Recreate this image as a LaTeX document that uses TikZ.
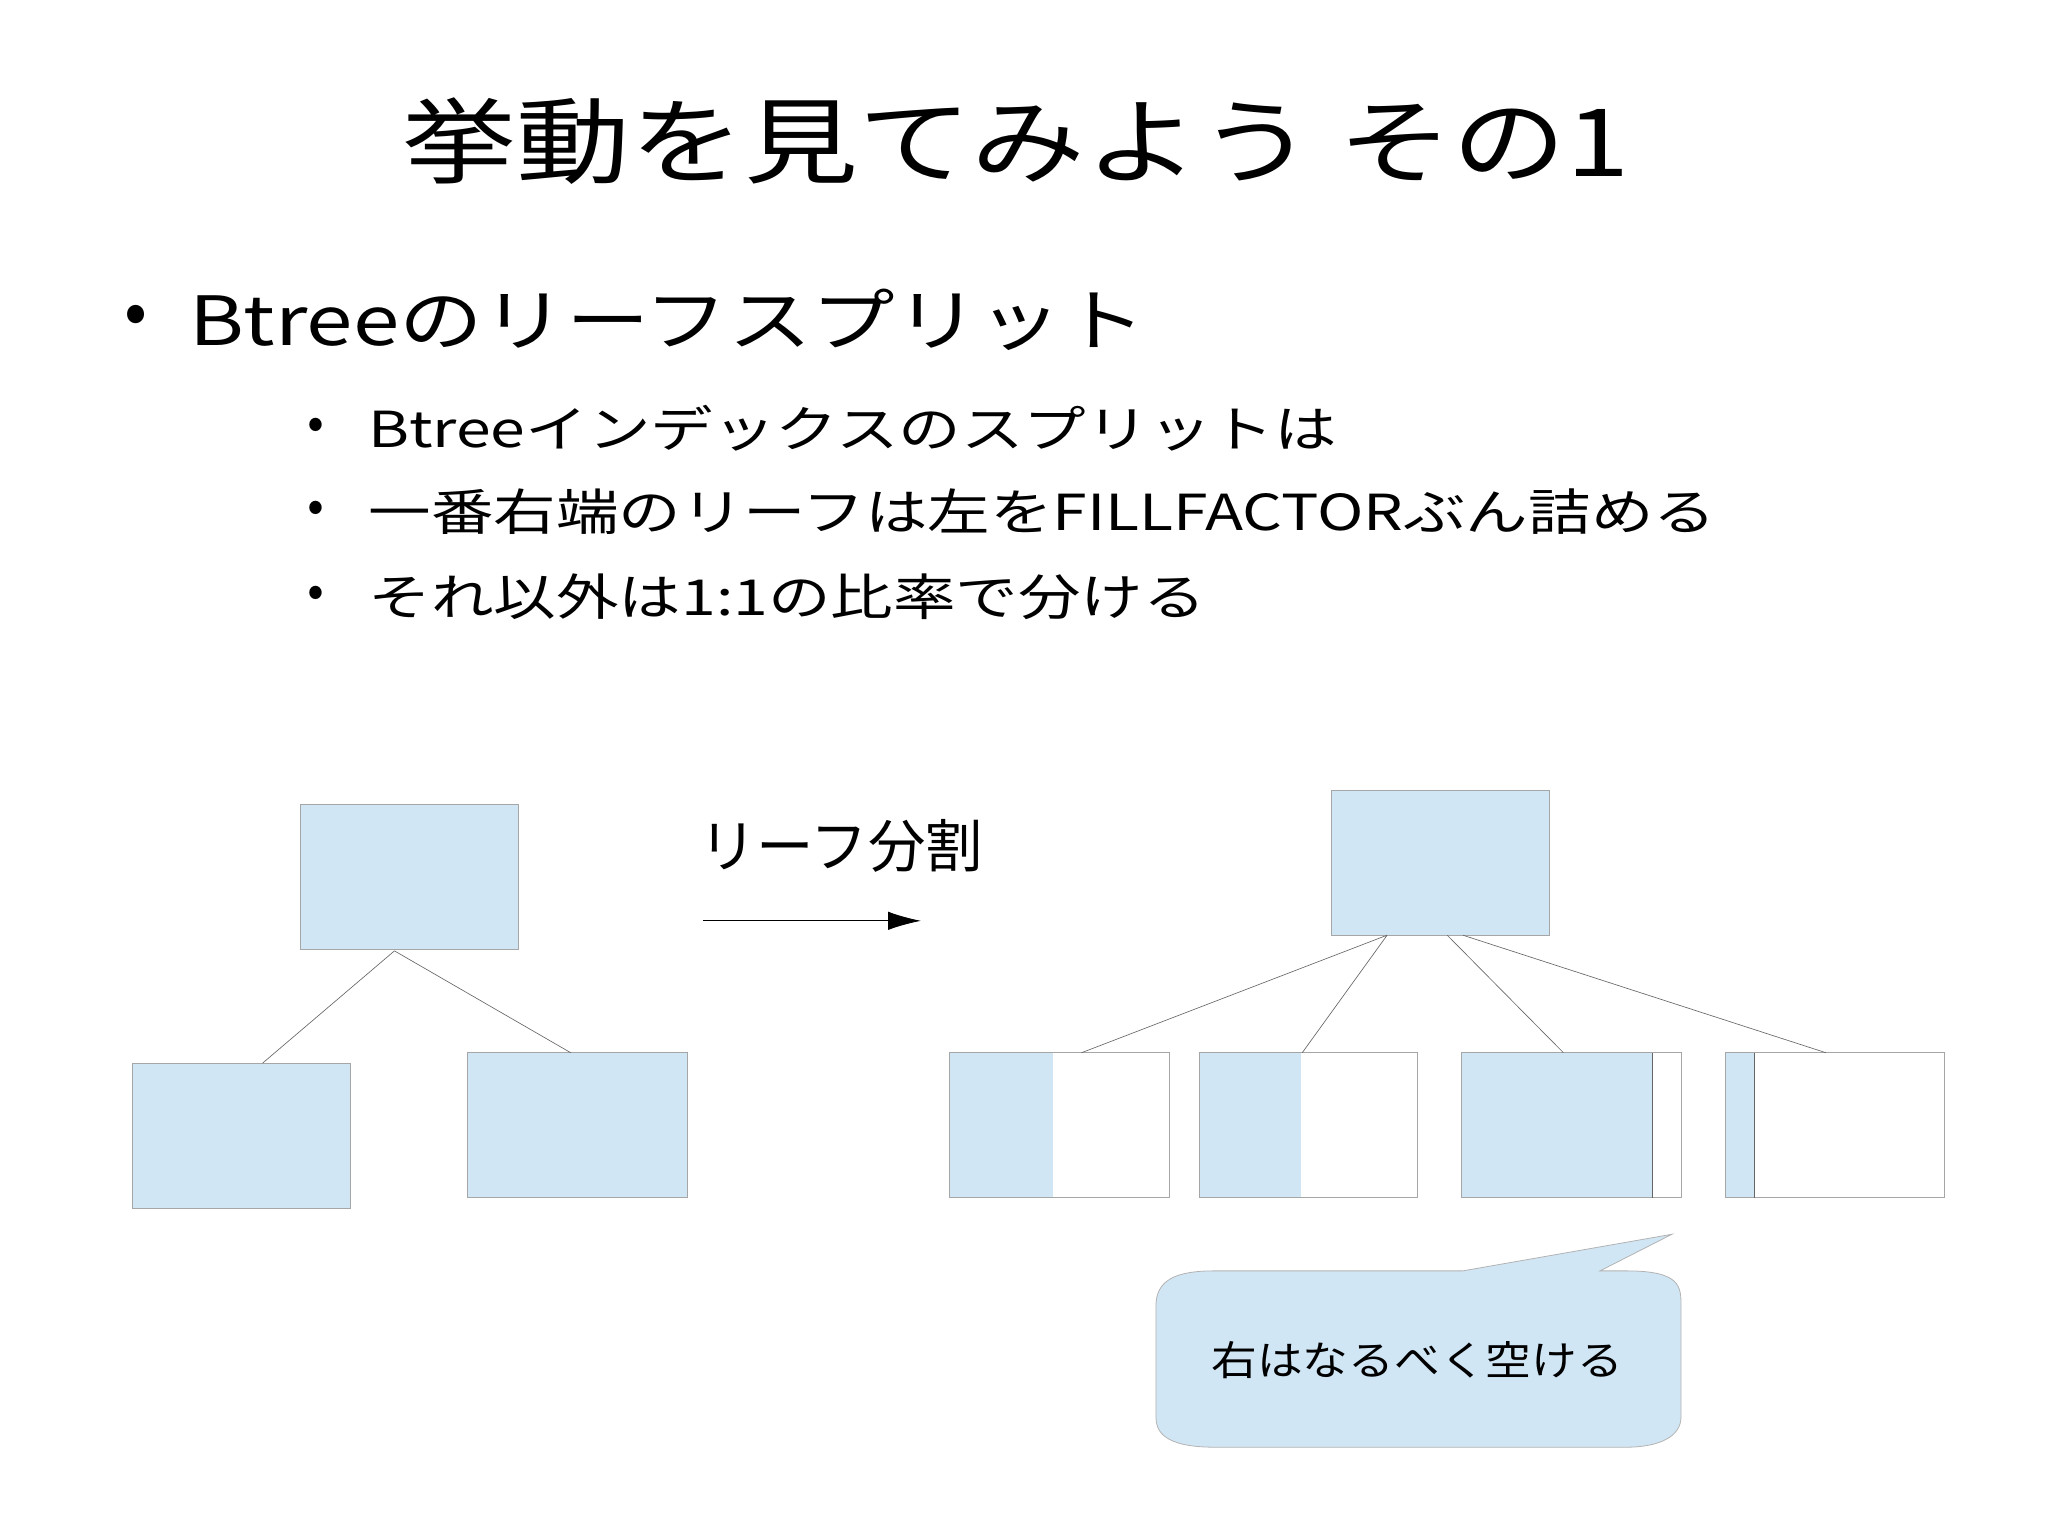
\documentclass[tikz,border=0pt]{standalone}
\usepackage{fontspec}
\usetikzlibrary{arrows.meta}
\setmainfont{Noto Sans CJK JP}
\begin{document}
\begin{tikzpicture}[x=1pt,y=-1pt,
 bx/.style={draw=gray!70,fill=lb,line width=0.6pt},
 wb/.style={draw=gray!70,fill=white,line width=0.6pt},
 ln/.style={draw=gray!80!black,line width=0.5pt},
 txt/.style={anchor=west,inner sep=0pt}]
\definecolor{lb}{HTML}{D0E6F4}
\useasboundingbox (0,0) rectangle (1568,1175);
\node[xscale=1.21] (title) at (778,108) {\fontsize{72}{80}\selectfont 挙動を見てみよう その1};
\node[txt] (d1) at (95,245) {\fontsize{52}{60}\selectfont •};
\node[txt,xscale=1.23] (b1) at (145,245) {\fontsize{52}{60}\selectfont Btreeのリーフスプリット};
\node[txt] (d2) at (235,328) {\fontsize{38}{44}\selectfont •};
\node[txt,xscale=1.26] (s1) at (282,328) {\fontsize{38}{44}\selectfont Btreeインデックスのスプリットは};
\node[txt] (d3) at (235,392) {\fontsize{38}{44}\selectfont •};
\node[txt,xscale=1.26] (s2) at (282,392) {\fontsize{38}{44}\selectfont 一番右端のリーフは左をFILLFACTORぶん詰める};
\node[txt] (d4) at (235,457) {\fontsize{38}{44}\selectfont •};
\node[txt,xscale=1.26] (s3) at (282,457) {\fontsize{38}{44}\selectfont それ以外は1:1の比率で分ける};
% left tree
\draw[bx] (230,616) rectangle (397,727); \coordinate (lt) at (302,728);
\draw[bx] (101,814) rectangle (268,925); \coordinate (l1) at (201,814);
\draw[bx] (358,806) rectangle (526,917); \coordinate (l2) at (437,806);
\draw[ln] (lt)--(l1) (lt)--(l2);
\node[txt] (lbl) at (535,648) {\fontsize{44}{50}\selectfont リーフ分割};
\coordinate (a1) at (538,705); \coordinate (a2) at (705,705);
\draw[line width=0.6pt,-{Latex[length=25pt,width=14pt]}] (a1)--(a2);
% right tree
\draw[bx] (1019,605) rectangle (1186,716);
\draw[wb] (727,806) rectangle (895,917); \fill[lb] (727.5,806.5) rectangle (806,916.5);
\draw[wb] (918,806) rectangle (1085,917); \fill[lb] (918.5,806.5) rectangle (996,916.5);
\draw[wb] (1119,806) rectangle (1287,917); \fill[lb] (1119.5,806.5) rectangle (1265,916.5);
\draw[ln] (1265,806)--(1265,917);
\draw[wb] (1321,806) rectangle (1489,917); \fill[lb] (1321.5,806.5) rectangle (1343,916.5);
\draw[ln] (1343,806)--(1343,917);
\coordinate (p1) at (1062,716); \coordinate (p2) at (1108,716); \coordinate (p3) at (1120,716);
\coordinate (c1) at (828,806); \coordinate (c2) at (997,806); \coordinate (c3) at (1197,806); \coordinate (c4) at (1398,806);
\draw[ln] (p1)--(c1) (p1)--(c2) (p2)--(c3) (p3)--(c4);
% callout
\draw[draw=gray!60,fill=lb,line width=0.6pt] (930,973) -- (1120,973) -- (1280,945) -- (1225,973) -- (1245,973)
 .. controls (1287,973) and (1287,985) .. (1287,1000) -- (1287,1085)
 .. controls (1287,1100) and (1270,1108) .. (1245,1108) -- (930,1108)
 .. controls (890,1108) and (885,1095) .. (885,1085) -- (885,1000)
 .. controls (885,980) and (900,973) .. (930,973) -- cycle;
\node[xscale=1.13] (ct) at (1085,1041) {\fontsize{31}{36}\selectfont 右はなるべく空ける};
\end{tikzpicture}
\end{document}
